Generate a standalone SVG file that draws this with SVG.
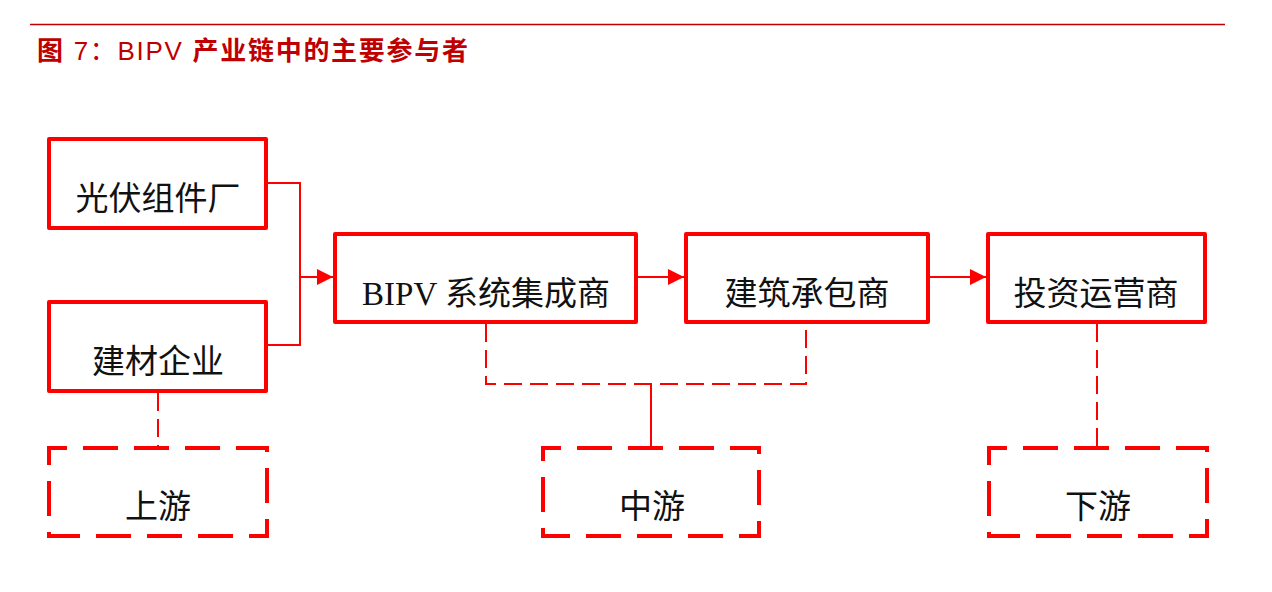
<svg xmlns="http://www.w3.org/2000/svg" width="1272" height="592" viewBox="0 0 1272 592">
<defs>
<style>
.box{fill:#fff;stroke:#ff0000;stroke-width:4;stroke-linejoin:round}
.dbox{fill:#fff;stroke:#ff0000;stroke-width:4;stroke-dasharray:35 16;stroke-dashoffset:17}
.lbl{font-family:'Noto Sans CJK SC',sans-serif;font-size:33px;fill:#111;text-anchor:middle}
.mix{font-family:'Liberation Serif','Noto Sans CJK SC',serif}
.ln{fill:none;stroke:#ff0000;stroke-width:2}
.dl{fill:none;stroke:#ff0000;stroke-width:2;stroke-dasharray:18 8}
</style>
<marker id="arr" viewBox="0 0 10 10" refX="10" refY="5" markerWidth="17" markerHeight="16" markerUnits="userSpaceOnUse" orient="auto">
<path d="M0,0 L10,5 L0,10 z" fill="#ff0000"/>
</marker>
</defs>
<rect width="1272" height="592" fill="#fff"/>
<g id="title">
<line x1="30" y1="24.5" x2="1225" y2="24.5" stroke="#c00000" stroke-width="1.6"/>
<text x="37" y="60" font-family="'Liberation Sans','Noto Sans CJK SC',sans-serif" font-size="26" font-weight="bold" fill="#c00000" textLength="431" lengthAdjust="spacing">图 <tspan font-weight="normal">7：BIPV</tspan> 产业链中的主要参与者</text>
</g>
<g id="connectors">
<polyline class="ln" points="268,183 300,183 300,345 268,345"/>
<line class="ln" x1="300" y1="277" x2="333" y2="277" marker-end="url(#arr)"/>
<line class="ln" x1="638" y1="277" x2="684" y2="277" marker-end="url(#arr)"/>
<line class="ln" x1="930" y1="277" x2="986" y2="277" marker-end="url(#arr)"/>
<line class="dl" x1="158" y1="393" x2="158" y2="446"/>
<polyline class="dl" points="486,324 486,384 806,384 806,324"/>
<line class="ln" x1="651" y1="384" x2="651" y2="446"/>
<line class="dl" x1="1097" y1="324" x2="1097" y2="446"/>
</g>
<g id="n1"><rect class="box" x="49" y="139" width="217" height="89"/><text class="lbl" x="158" y="210">光伏组件厂</text></g>
<g id="n2"><rect class="box" x="49" y="302" width="217" height="89"/><text class="lbl" x="158" y="373">建材企业</text></g>
<g id="n3"><rect class="box" x="335" y="234" width="301" height="88"/><text class="lbl mix" x="486" y="305">BIPV 系统集成商</text></g>
<g id="n4"><rect class="box" x="686" y="234" width="242" height="88"/><text class="lbl" x="807" y="305">建筑承包商</text></g>
<g id="n5"><rect class="box" x="988" y="234" width="217" height="88"/><text class="lbl" x="1096" y="305">投资运营商</text></g>
<g id="up"><rect class="dbox" x="49" y="448" width="218" height="88"/><text class="lbl" x="158" y="518">上游</text></g>
<g id="mid"><rect class="dbox" x="543" y="448" width="216" height="88"/><text class="lbl" x="652" y="518">中游</text></g>
<g id="down"><rect class="dbox" x="989" y="448" width="218" height="88"/><text class="lbl" x="1098" y="518">下游</text></g>
</svg>
